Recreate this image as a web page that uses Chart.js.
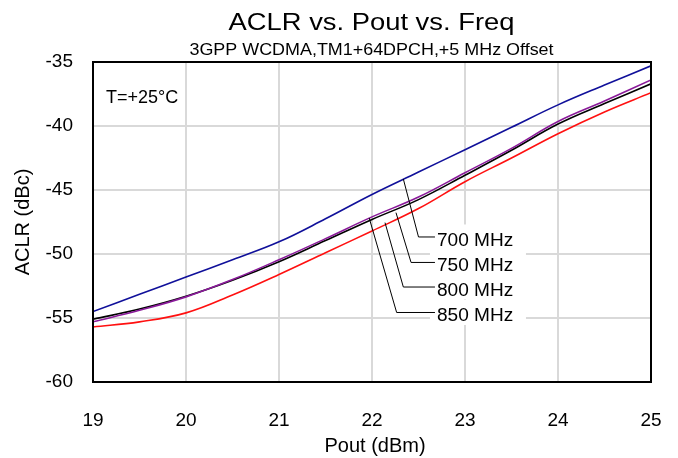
<!DOCTYPE html>
<html>
<head>
<meta charset="utf-8">
<script src="https://cdn.jsdelivr.net/npm/chart.js@4"></script>
<style>
html,body{margin:0;padding:0;background:#fff;}
#wrap{width:678px;height:458px;}
</style>
</head>
<body>
<div id="wrap"><canvas id="c" width="678" height="458"></canvas></div>
<script>
// ---- data ----
const pout = [19, 19.5, 20, 20.5, 21, 21.5, 22, 22.5, 23, 23.5, 24, 24.5, 25];
const aclr700 = [-54.5, -53.15, -51.8, -50.45, -49.05, -47.25, -45.35, -43.6, -41.85, -40.1, -38.35, -36.8, -35.3];
const aclr750 = [-55.3, -54.4, -53.35, -52.0, -50.45, -48.8, -47.1, -45.55, -43.65, -41.75, -39.65, -38.05, -36.4];
const aclr800 = [-55.1, -54.3, -53.3, -52.05, -50.6, -48.95, -47.3, -45.75, -43.85, -41.9, -39.85, -38.25, -36.7];
const aclr850 = [-55.7, -55.3, -54.6, -53.2, -51.6, -49.9, -48.2, -46.45, -44.35, -42.5, -40.6, -38.9, -37.4];
const seriesNames = ['700 MHz', '750 MHz', '800 MHz', '850 MHz'];
const xTicks = [19, 20, 21, 22, 23, 24, 25];
const yTicks = [-60, -55, -50, -45, -40, -35];
// leader-line annotations (data coordinates): start on curve, elbow, label
const calloutText = ['700 MHz', '750 MHz', '800 MHz', '850 MHz'];
const calloutStartX = [22.337, 22.258, 22.14, 21.97];
const calloutStartY = [-44.14, -46.77, -47.55, -47.19];
const calloutElbowX = [22.5, 22.42, 22.337, 22.265];
const calloutElbowY = [-48.67, -50.66, -52.58, -54.57];
const calloutLineEndX = 22.677;

const FONT = "'Liberation Sans', Arial, sans-serif";

function mk(name, data, color) {
  return {
    label: name,
    data: pout.map((x, i) => ({x: x, y: data[i]})),
    borderColor: color,
    backgroundColor: color,
    borderWidth: 1.6,
    pointRadius: 0,
    fill: false,
    tension: 0.4
  };
}

function stretchText(ctx, text, x, y, sx, align) {
  ctx.save();
  ctx.translate(x, y);
  ctx.scale(sx, 1);
  ctx.textAlign = align;
  ctx.fillText(text, 0, 0);
  ctx.restore();
}

const decor = {
  id: 'decor',
  afterDatasetsDraw(chart) {
    const ctx = chart.ctx;
    const a = chart.chartArea;
    const xs = chart.scales.x, ys = chart.scales.y;
    ctx.save();
    const endPx = xs.getPixelForValue(calloutLineEndX);
    // white label boxes
    ctx.fillStyle = '#fff';
    for (let i = 0; i < calloutText.length; i++) {
      const yy = ys.getPixelForValue(calloutElbowY[i]);
      ctx.fillRect(endPx - 5, yy - 12.5, 96, 25);
    }
    // leader lines
    ctx.strokeStyle = '#000';
    ctx.lineWidth = 1;
    for (let i = 0; i < calloutText.length; i++) {
      ctx.beginPath();
      ctx.moveTo(xs.getPixelForValue(calloutStartX[i]), ys.getPixelForValue(calloutStartY[i]));
      const ey = ys.getPixelForValue(calloutElbowY[i]);
      ctx.lineTo(xs.getPixelForValue(calloutElbowX[i]), ey);
      ctx.lineTo(endPx, ey);
      ctx.stroke();
    }
    // label text
    ctx.fillStyle = '#000';
    ctx.font = '18px ' + FONT;
    ctx.textBaseline = 'alphabetic';
    for (let i = 0; i < calloutText.length; i++) {
      const ey = ys.getPixelForValue(calloutElbowY[i]);
      stretchText(ctx, calloutText[i], endPx + 2, ey + 8.6, 1.06, 'left');
    }
    // frame
    ctx.strokeStyle = '#000';
    ctx.lineWidth = 2;
    ctx.strokeRect(a.left, a.top, a.right - a.left, a.bottom - a.top);
    // T label
    ctx.font = '18px ' + FONT;
    ctx.textAlign = 'left';
    ctx.fillText('T=+25°C', 106, 103.3);
    // titles
    ctx.font = '24px ' + FONT;
    stretchText(ctx, 'ACLR vs. Pout vs. Freq', 371.5, 30, 1.14, 'center');
    ctx.font = '16px ' + FONT;
    stretchText(ctx, '3GPP WCDMA,TM1+64DPCH,+5 MHz Offset', 371.5, 55, 1.12, 'center');
    // axis titles
    ctx.font = '20px ' + FONT;
    stretchText(ctx, 'Pout (dBm)', 375, 452, 1.0, 'center');
    ctx.save();
    ctx.translate(29, 222);
    ctx.rotate(-Math.PI / 2);
    ctx.textAlign = 'center';
    ctx.fillText('ACLR (dBc)', 0, 0);
    ctx.restore();
    ctx.restore();
  }
};

new Chart(document.getElementById('c'), {
  type: 'line',
  data: {
    datasets: [
      mk(seriesNames[0], aclr700, '#10109a'),
      mk(seriesNames[1], aclr750, '#8a1a9a'),
      mk(seriesNames[2], aclr800, '#000000'),
      mk(seriesNames[3], aclr850, '#ff1010')
    ]
  },
  options: {
    responsive: false,
    animation: false,
    devicePixelRatio: 1,
    layout: {padding: {top: 62, right: 27, bottom: 0, left: 0}},
    plugins: {legend: {display: false}, title: {display: false}, tooltip: {enabled: false}},
    scales: {
      x: {
        type: 'linear', min: 19, max: 25,
        afterBuildTicks: s => { s.ticks = xTicks.map(v => ({value: v})); },
        afterFit: s => { s.height = 76; s.paddingLeft = 0; s.paddingRight = 0; },
        grid: {color: '#d9d9d9', lineWidth: 2, drawTicks: false},
        border: {display: false},
        ticks: {color: '#000', font: {family: FONT, size: 19}, padding: 27, maxRotation: 0}
      },
      y: {
        type: 'linear', min: -60, max: -35,
        afterBuildTicks: s => { s.ticks = yTicks.map(v => ({value: v})); },
        afterFit: s => { s.width = 93; s.paddingTop = 0; s.paddingBottom = 0; },
        grid: {color: '#d9d9d9', lineWidth: 2, drawTicks: false},
        border: {display: false},
        ticks: {color: '#000', font: {family: FONT, size: 19}, padding: 20}
      }
    }
  },
  plugins: [decor]
});
</script>
</body>
</html>
